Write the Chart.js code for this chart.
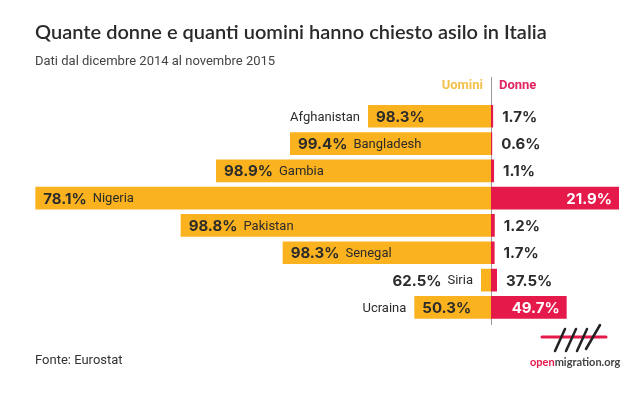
<!DOCTYPE html>
<html lang="it">
<head>
<meta charset="utf-8">
<script src="https://cdn.jsdelivr.net/npm/chart.js@4.4.1/dist/chart.umd.min.js"></script>
<style>
  html, body { margin: 0; padding: 0; background: #fff; }
  #wrap { width: 641px; height: 398px; position: relative; }
</style>
</head>
<body>
<div id="wrap"><canvas id="asilo-chart"></canvas></div>
<script>
// Richiedenti asilo in Italia per sesso (dic 2014 - nov 2015), stime
const paesi = ['Afghanistan', 'Bangladesh', 'Gambia', 'Nigeria', 'Pakistan', 'Senegal', 'Siria', 'Ucraina'];
const uomini = [3690, 6030, 8250, 13670, 9310, 6250, 300, 2300];
const donne = [64, 36, 92, 3840, 113, 108, 180, 2270];
const uominiPct = ['98.3%', '99.4%', '98.9%', '78.1%', '98.8%', '98.3%', '62.5%', '50.3%'];
const donnePct = ['1.7%', '0.6%', '1.1%', '21.9%', '1.2%', '1.7%', '37.5%', '49.7%'];

const GIALLO = '#FBB21F';
const ROSSO = '#E6194B';
const TESTO = '#2b2b2b';
const fontPct = 'bold 15px Inter';
const fontNome = '13px Roboto';

// etichette dentro/fuori le barre
const etichette = {
    id: 'etichette',
    beforeDatasetsDraw(chart) {
        const ctx = chart.ctx;
        const x0 = chart.scales.x.getPixelForValue(0);
        ctx.save();
        ctx.strokeStyle = '#999';
        ctx.lineWidth = 1;
        ctx.beginPath();
        ctx.moveTo(x0 + 0.5, 77);
        ctx.lineTo(x0 + 0.5, 325);
        ctx.stroke();
        ctx.font = 'bold 13px Roboto';
        ctx.textBaseline = 'middle';
        ctx.textAlign = 'right';
        ctx.fillStyle = '#F3C04C';
        ctx.fillText('Uomini', x0 - 8, 86);
        ctx.textAlign = 'left';
        ctx.fillStyle = '#E0245E';
        ctx.fillText('Donne', x0 + 8, 86);
        ctx.restore();
    },
    afterDatasetsDraw(chart) {
        const ctx = chart.ctx;
        const mU = chart.getDatasetMeta(0).data;
        const mD = chart.getDatasetMeta(1).data;
        ctx.save();
        ctx.textBaseline = 'middle';
        paesi.forEach((p, i) => {
            const bu = mU[i];
            const y = bu.y + 1;
            const left = Math.min(bu.x, bu.base);
            const len = Math.abs(bu.base - bu.x);
            ctx.font = fontPct;
            const wPct = ctx.measureText(uominiPct[i]).width;
            ctx.font = fontNome;
            const wNome = ctx.measureText(p).width;
            ctx.fillStyle = TESTO;
            ctx.textAlign = 'left';
            if (len >= wPct + wNome + 24) {
                ctx.font = fontPct;
                ctx.fillText(uominiPct[i], left + 8, y);
                ctx.font = fontNome;
                ctx.fillText(p, left + 8 + wPct + 6, y);
            } else if (len >= wPct + 16) {
                ctx.font = fontPct;
                ctx.fillText(uominiPct[i], left + 8, y);
                ctx.font = fontNome;
                ctx.textAlign = 'right';
                ctx.fillText(p, left - 8, y);
            } else {
                ctx.textAlign = 'right';
                ctx.font = fontNome;
                ctx.fillText(p, left - 8, y);
                ctx.font = fontPct;
                ctx.fillText(uominiPct[i], left - 8 - wNome - 6, y);
            }

            const bd = mD[i];
            const end = Math.max(bd.x, bd.base);
            const lenD = Math.abs(bd.x - bd.base);
            ctx.font = fontPct;
            const wD = ctx.measureText(donnePct[i]).width;
            if (lenD >= wD + 16) {
                ctx.fillStyle = '#fff';
                ctx.textAlign = 'right';
                ctx.fillText(donnePct[i], end - 7, y);
            } else {
                ctx.fillStyle = TESTO;
                ctx.textAlign = 'left';
                ctx.fillText(donnePct[i], end + 9, y);
            }
        });
        ctx.restore();
    },
    afterDraw(chart) {
        const ctx = chart.ctx;
        ctx.save();
        // fonte
        ctx.font = '13px Roboto';
        ctx.fillStyle = '#333';
        ctx.textBaseline = 'middle';
        ctx.textAlign = 'left';
        ctx.fillText('Fonte: Eurostat', 35, 361);
        // logo openmigration
        ctx.strokeStyle = ROSSO;
        ctx.lineWidth = 3;
        ctx.lineCap = 'round';
        ctx.beginPath();
        ctx.moveTo(542, 337);
        ctx.lineTo(606, 337);
        ctx.stroke();
        ctx.strokeStyle = '#222';
        ctx.lineWidth = 2.5;
        [[555, 351, 565, 329], [566, 351, 576, 329], [577, 351, 587, 329], [586, 349, 600, 325]].forEach(s => {
            ctx.beginPath();
            ctx.moveTo(s[0], s[1]);
            ctx.lineTo(s[2], s[3]);
            ctx.stroke();
        });
        ctx.font = 'bold 11px Lato';
        ctx.textBaseline = 'middle';
        ctx.fillStyle = ROSSO;
        ctx.fillText('open', 530, 362);
        const wo = ctx.measureText('open').width;
        ctx.fillStyle = '#444';
        ctx.fillText('migration.org', 530 + wo, 362);
        ctx.restore();
    }
};

const ctx1 = document.getElementById('asilo-chart').getContext('2d');
new Chart(ctx1, {
    type: 'bar',
    data: {
        labels: paesi,
        datasets: [{
            label: 'Uomini',
            data: uomini.map(v => -v),
            backgroundColor: GIALLO,
            borderWidth: 0
        }, {
            label: 'Donne',
            data: donne,
            backgroundColor: ROSSO,
            borderWidth: 0
        }]
    },
    options: {
        indexAxis: 'y',
        responsive: true,
        maintainAspectRatio: false,
        animation: false,
        layout: {
            padding: { left: 35, right: 16, top: 0, bottom: 77 }
        },
        datasets: {
            bar: { categoryPercentage: 1, barPercentage: 0.83 }
        },
        scales: {
            x: { display: false, stacked: true, min: -13680, max: 4020 },
            y: { display: false, stacked: true }
        },
        plugins: {
            legend: { display: false },
            tooltip: { enabled: false },
            title: {
                display: true,
                text: 'Quante donne e quanti uomini hanno chiesto asilo in Italia',
                align: 'start',
                color: '#2a2a2a',
                font: { family: 'Lato', size: 20, weight: 600 },
                padding: { top: 21, bottom: 0 }
            },
            subtitle: {
                display: true,
                text: 'Dati dal dicembre 2014 al novembre 2015',
                align: 'start',
                color: '#444',
                font: { family: 'Roboto', size: 13 },
                padding: { top: 9, bottom: 33 }
            }
        }
    },
    plugins: [etichette]
});
</script>
</body>
</html>
